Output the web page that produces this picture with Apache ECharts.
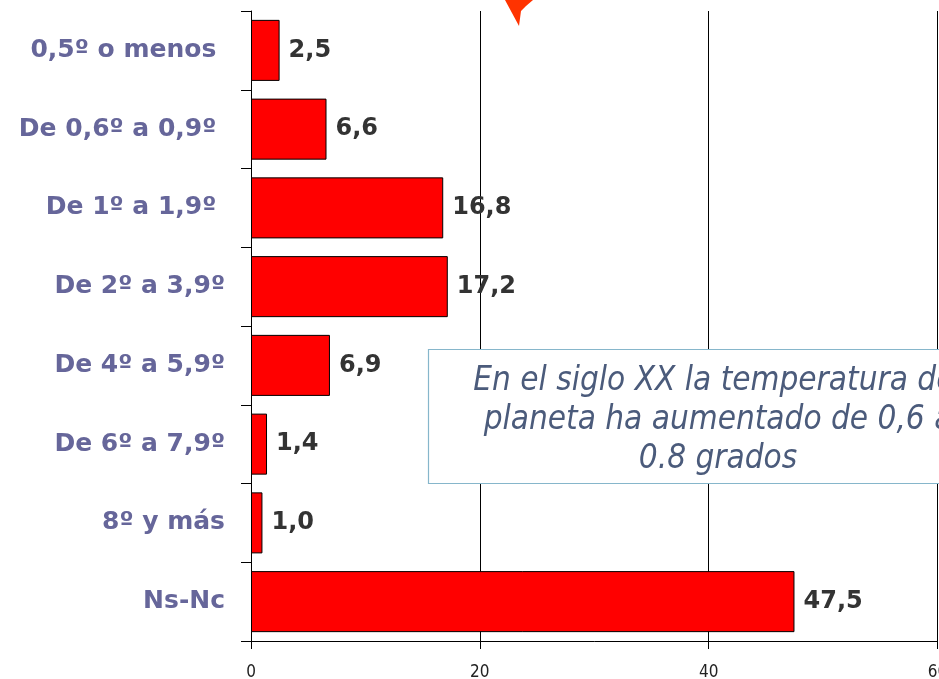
<!DOCTYPE html>
<html>
<head>
<meta charset="utf-8">
<script src="https://cdn.jsdelivr.net/npm/echarts@6/dist/echarts.min.js"></script>
<style>
html,body{margin:0;padding:0;background:#fff;}
#c{width:939px;height:679px;}
</style>
</head>
<body>
<div id="c"></div>
<script>
var categories = ['0,5º o menos ', 'De 0,6º a 0,9º ', 'De 1º a 1,9º ', 'De 2º a 3,9º', 'De 4º a 5,9º', 'De 6º a 7,9º', '8º y más', 'Ns-Nc'];
var values = [2.5, 6.6, 16.8, 17.2, 6.9, 1.4, 1.0, 47.5];
var xTicks = [0, 20, 40, 60];
var noteLines = ['En el siglo XX la temperatura del', 'planeta ha aumentado de 0,6 a', '0.8 grados'];

var COND = '"DejaVu Sans Condensed", "DejaVu Sans", sans-serif';
var WIDE = '"DejaVu Sans", sans-serif';
var chart = echarts.init(document.getElementById('c'), null, {renderer: 'canvas'});
chart.setOption({
  animation: false,
  grid: {left: 251, right: 1.5, top: 11, bottom: 38, containLabel: false, outerBoundsMode: 'none'},
  xAxis: {
    type: 'value', min: xTicks[0], max: xTicks[xTicks.length - 1], interval: 20,
    axisLine: {show: true, lineStyle: {color: '#000', width: 1}},
    axisTick: {show: true, length: 8, lineStyle: {color: '#000'}},
    axisLabel: {margin: 23, fontFamily: COND, fontSize: 17, color: '#222', showMaxLabel: true, hideOverlap: false},
    splitLine: {show: true, lineStyle: {color: '#000', width: 1}}
  },
  yAxis: {
    type: 'category', data: categories, inverse: true,
    axisLine: {show: true, lineStyle: {color: '#000', width: 1}},
    axisTick: {show: true, length: 10, lineStyle: {color: '#000'}},
    axisLabel: {margin: 26, fontFamily: WIDE, fontSize: 25, fontWeight: 'bold', color: '#66669a'},
    splitLine: {show: false}
  },
  series: [{
    type: 'bar', data: values, barCategoryGap: '22.5%',
    itemStyle: {color: '#ff0000', borderColor: '#000', borderWidth: 1},
    label: {
      show: true, position: 'right', distance: 9,
      fontFamily: WIDE, fontSize: 24, fontWeight: 'bold', color: '#333',
      formatter: function (p) { return p.value.toFixed(1).replace('.', ','); }
    }
  }],
  graphic: [
    {
      type: 'polygon', z: 10,
      shape: {points: [[505, 0], [533, 0], [526, 6], [521, 11], [519, 26], [512, 13]]},
      style: {fill: '#ff3300'}
    },
    {
      type: 'rect', z: 20,
      shape: {x: 428.5, y: 349.5, width: 580, height: 134},
      style: {fill: '#fff', stroke: '#86b6cb', lineWidth: 1.2}
    },
    {
      type: 'text', z: 21, x: 718, y: 362,
      style: {
        text: noteLines.join('\n'), align: 'center', verticalAlign: 'top',
        font: 'italic 33px ' + COND, fill: '#4b5b7b', lineHeight: 39
      }
    }
  ]
});
</script>
</body>
</html>
